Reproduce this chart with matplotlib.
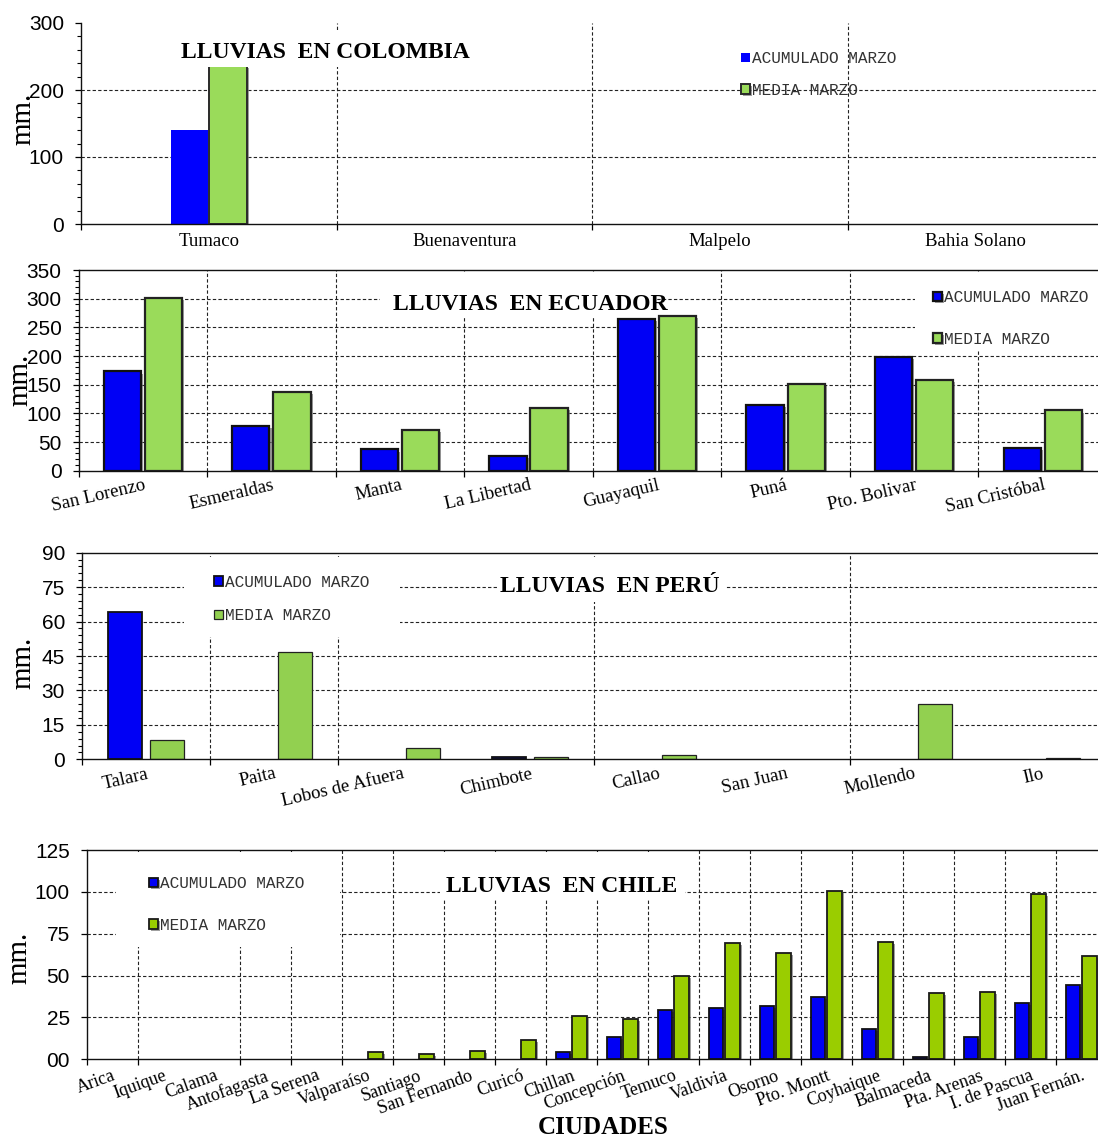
import matplotlib
matplotlib.use("Agg")
import matplotlib.pyplot as plt
import matplotlib.patheffects as pe
from matplotlib.patches import Rectangle
from matplotlib.font_manager import FontProperties
from matplotlib.ticker import FixedLocator, MultipleLocator, NullLocator
import numpy as np

W, H, DPI = 1098, 1138, 100

SERIES = ["ACUMULADO MARZO", "MEDIA MARZO"]

COL_CITIES = ["Tumaco", "Buenaventura", "Malpelo", "Bahia Solano"]
COL_ACUM = [141, 0, 0, 0]
COL_MEDIA = [236, 0, 0, 0]
COL_YTICKS = [0, 100, 200, 300]

ECU_CITIES = ["San Lorenzo", "Esmeraldas", "Manta", "La Libertad",
              "Guayaquil", "Puná", "Pto. Bolivar", "San Cristóbal"]
ECU_ACUM = [173, 78, 37, 26, 264, 115, 198, 39]
ECU_MEDIA = [302, 137, 71, 110, 270, 151, 159, 105]
ECU_YTICKS = [0, 50, 100, 150, 200, 250, 300, 350]

PER_CITIES = ["Talara", "Paita", "Lobos de Afuera", "Chimbote",
              "Callao", "San Juan", "Mollendo", "Ilo"]
PER_ACUM = [64, 0, 0, 1.0, 0, 0, 0, 0]
PER_MEDIA = [8.3, 46.6, 4.8, 0.9, 1.7, 0, 24.1, 0.4]
PER_YTICKS = [0, 15, 30, 45, 60, 75, 90]

CHL_CITIES = ["Arica", "Iquique", "Calama", "Antofagasta", "La Serena",
              "Valparaíso", "Santiago", "San Fernando", "Curicó", "Chillan",
              "Concepción", "Temuco", "Valdivia", "Osorno", "Pto. Montt",
              "Coyhaique", "Balmaceda", "Pta. Arenas", "I. de Pascua",
              "Juan Fernán."]
CHL_ACUM = [0, 0, 0, 0, 0, 0, 0, 0, 0, 4.6, 13.5, 29.3, 30.5, 31.6, 37.0,
            18.3, 1.4, 13.5, 33.4, 44.4]
CHL_MEDIA = [0, 0, 0, 0, 0, 4.6, 3.2, 5.2, 11.7, 25.9, 24.3, 49.8, 69.7,
             63.3, 100.5, 70.1, 39.4, 40.4, 98.7, 61.5]
CHL_YTICKS = [0, 25, 50, 75, 100, 125]
CHL_YTICKLABELS = ["00", "25", "50", "75", "100", "125"]

plt.rcParams['font.family'] = ['Liberation Serif', 'DejaVu Serif']

fig = plt.figure(figsize=(W / DPI, H / DPI), dpi=DPI)
fig.patch.set_facecolor("white")


def fx(x):
    return x / W


def fy(y):
    return 1 - y / H


def pt(px):
    return px * 72.0 / DPI


GRID_KW = dict(colors="#222222", linewidths=0.8, linestyles=(0, (3, 2)), zorder=0.5)
SHADOW = [pe.SimplePatchShadow(offset=(1.5, -1.5), shadow_rgbFace="#777777", alpha=0.7), pe.Normal()]
TICK_FONT = FontProperties(family="Liberation Sans", size=15)
LEG_FONT = FontProperties(family="Liberation Mono", size=11.6)
TITLE_FONT = FontProperties(family="Liberation Serif", weight="bold", size=17)


def panel(box, cities, acum, media, yticks, width, offset, blue_kw, green_kw,
          seps, minor_step, top_spine, rot, label_size, label_pad,
          title, title_xy, title_box, legend_xy, legend_spacing,
          legend_box=None, box_z=1.5, ylabel_xy=None, yticklabels=None):
    left, top, right, bottom = box
    ax = fig.add_axes([fx(left), fy(bottom), (right - left) / W, (bottom - top) / H])
    n = len(cities)
    x = np.arange(n)
    b1 = ax.bar(x - offset, acum, width, zorder=2, **blue_kw)
    b2 = ax.bar(x + offset, media, width, zorder=2, **green_kw)
    # stations without rain leave no mark at all
    for bars in (b1, b2):
        for p in bars.patches:
            if p.get_height() == 0:
                p.set_visible(False)
    ymax = yticks[-1]
    ax.set_xlim(-0.5, n - 0.5)
    ax.set_ylim(0, ymax)

    # grid: horizontal dashed lines and category separators
    ax.hlines(yticks[1:-1], -0.5, n - 0.5, **GRID_KW)
    ax.vlines([s + 0.5 for s in seps], 0, ymax, **GRID_KW)

    ax.spines["right"].set_visible(False)
    ax.spines["top"].set_visible(top_spine)
    for sp in ax.spines.values():
        sp.set_linewidth(1.0)
        sp.set_color("#111111")

    ax.set_yticks(yticks)
    if yticklabels is not None:
        ax.set_yticklabels(yticklabels)
    for lab in ax.get_yticklabels():
        lab.set_fontproperties(TICK_FONT)
    ax.tick_params(axis="y", which="major", length=pt(6), width=0.9, pad=pt(11), direction="out")
    if minor_step:
        ax.yaxis.set_minor_locator(MultipleLocator(minor_step))
        ax.tick_params(axis="y", which="minor", length=pt(4), width=0.8, direction="out")
    else:
        ax.yaxis.set_minor_locator(NullLocator())

    ax.set_xticks(x)
    ax.set_xticklabels(cities)
    ax.xaxis.set_minor_locator(FixedLocator([-0.5] + [s + 0.5 for s in seps]))
    ax.tick_params(axis="x", which="major", length=0, pad=pt(label_pad))
    ax.tick_params(axis="x", which="minor", length=pt(6), width=0.9, direction="out")
    for lab in ax.get_xticklabels():
        lab.set_fontsize(label_size)
        lab.set_family("Liberation Serif")
        if rot:
            lab.set_rotation(rot)
            lab.set_ha("right")
            lab.set_va("top")
            lab.set_rotation_mode("anchor")

    # white areas behind title and legend
    for bx in [title_box] + ([legend_box] if legend_box else []):
        x0, y0, x1, y1 = bx
        ax.add_patch(Rectangle((fx(x0), fy(y1)), (x1 - x0) / W, (y1 - y0) / H,
                               transform=fig.transFigure, facecolor="white",
                               edgecolor="none", zorder=box_z, clip_on=False))

    ax.text(fx(title_xy[0]), fy(title_xy[1]), title, transform=fig.transFigure,
            ha="center", va="baseline", fontproperties=TITLE_FONT, zorder=4)

    keys = [Rectangle((0, 0), 1, 1, **blue_kw), Rectangle((0, 0), 1, 1, **green_kw)]
    leg = ax.legend(keys, SERIES, loc="center left",
                    bbox_to_anchor=(fx(legend_xy[0]), fy(legend_xy[1])),
                    bbox_transform=fig.transFigure, frameon=False, prop=LEG_FONT,
                    handlelength=0.55, handleheight=0.55, handletextpad=0.15,
                    labelspacing=legend_spacing, borderpad=0, borderaxespad=0)
    leg.set_zorder(5)
    for t in leg.get_texts():
        t.set_color("#333333")

    fig.text(fx(ylabel_xy[0]), fy(ylabel_xy[1]), "mm.", rotation=90,
             ha="center", va="center", family="Liberation Serif", size=21)
    return ax


BLUE = "#0000F5"

# Colombia
panel((81, 23, 1103, 224), COL_CITIES, COL_ACUM, COL_MEDIA, COL_YTICKS,
      width=0.146, offset=0.075,
      blue_kw=dict(facecolor="#0000FF", edgecolor="none"),
      green_kw=dict(facecolor="#9ADB5A", edgecolor="#2a2a2a", linewidth=1.4, path_effects=SHADOW),
      seps=[0, 1, 2], minor_step=20, top_spine=False, rot=0, label_size=13.5,
      label_pad=9, title="LLUVIAS  EN COLOMBIA", title_xy=(325, 58.5),
      title_box=(172, 30, 480, 67), box_z=3,
      legend_xy=(741, 74.5), legend_spacing=1.04, ylabel_xy=(23, 119))

# Ecuador
panel((78.6, 270, 1107, 470.7), ECU_CITIES, ECU_ACUM, ECU_MEDIA, ECU_YTICKS,
      width=0.29, offset=0.16,
      blue_kw=dict(facecolor=BLUE, edgecolor="#111111", linewidth=1.6, path_effects=SHADOW),
      green_kw=dict(facecolor="#9ADB5A", edgecolor="#222222", linewidth=1.6, path_effects=SHADOW),
      seps=[0, 1, 2, 3, 4, 5, 6], minor_step=10, top_spine=True, rot=13,
      label_size=13.5, label_pad=6, title="LLUVIAS  EN ECUADOR",
      title_xy=(530, 310), title_box=(380, 272, 655, 317),
      legend_xy=(933, 318.5), legend_spacing=1.66, legend_box=(915, 272, 1098, 350),
      ylabel_xy=(20, 380))

# Peru
panel((82, 552.7, 1106, 759.3), PER_CITIES, PER_ACUM, PER_MEDIA, PER_YTICKS,
      width=0.27, offset=0.165,
      blue_kw=dict(facecolor=BLUE, edgecolor="#111111", linewidth=1.3),
      green_kw=dict(facecolor="#92D050", edgecolor="#222222", linewidth=0.9),
      seps=[0, 1, 3, 5], minor_step=3, top_spine=True, rot=13,
      label_size=13.5, label_pad=6, title="LLUVIAS  EN PERÚ",
      title_xy=(610, 592), title_box=(498, 557, 726, 602),
      legend_xy=(214, 599), legend_spacing=1.16, legend_box=(184, 557, 400, 637),
      ylabel_xy=(23, 663))

# Chile
panel((86.7, 850, 1106.7, 1059.3), CHL_CITIES, CHL_ACUM, CHL_MEDIA, CHL_YTICKS,
      width=0.29, offset=0.16,
      blue_kw=dict(facecolor=BLUE, edgecolor="#111111", linewidth=1.3, path_effects=SHADOW),
      green_kw=dict(facecolor="#9ACD00", edgecolor="#1a1a1a", linewidth=1.3, path_effects=SHADOW),
      seps=[0] + list(range(2, 19)), minor_step=None, top_spine=True, rot=20,
      label_size=13, label_pad=8, title="LLUVIAS  EN CHILE",
      title_xy=(562, 892.5), title_box=(440, 852, 685, 900),
      legend_xy=(149, 904.5), legend_spacing=1.66, legend_box=(116, 852, 340, 947),
      ylabel_xy=(19, 958), yticklabels=CHL_YTICKLABELS)

fig.text(fx(603), fy(1127), "CIUDADES", ha="center", va="center",
         family="Liberation Serif", weight="bold", size=18)

fig.savefig("out.png", dpi=DPI, facecolor="white")
